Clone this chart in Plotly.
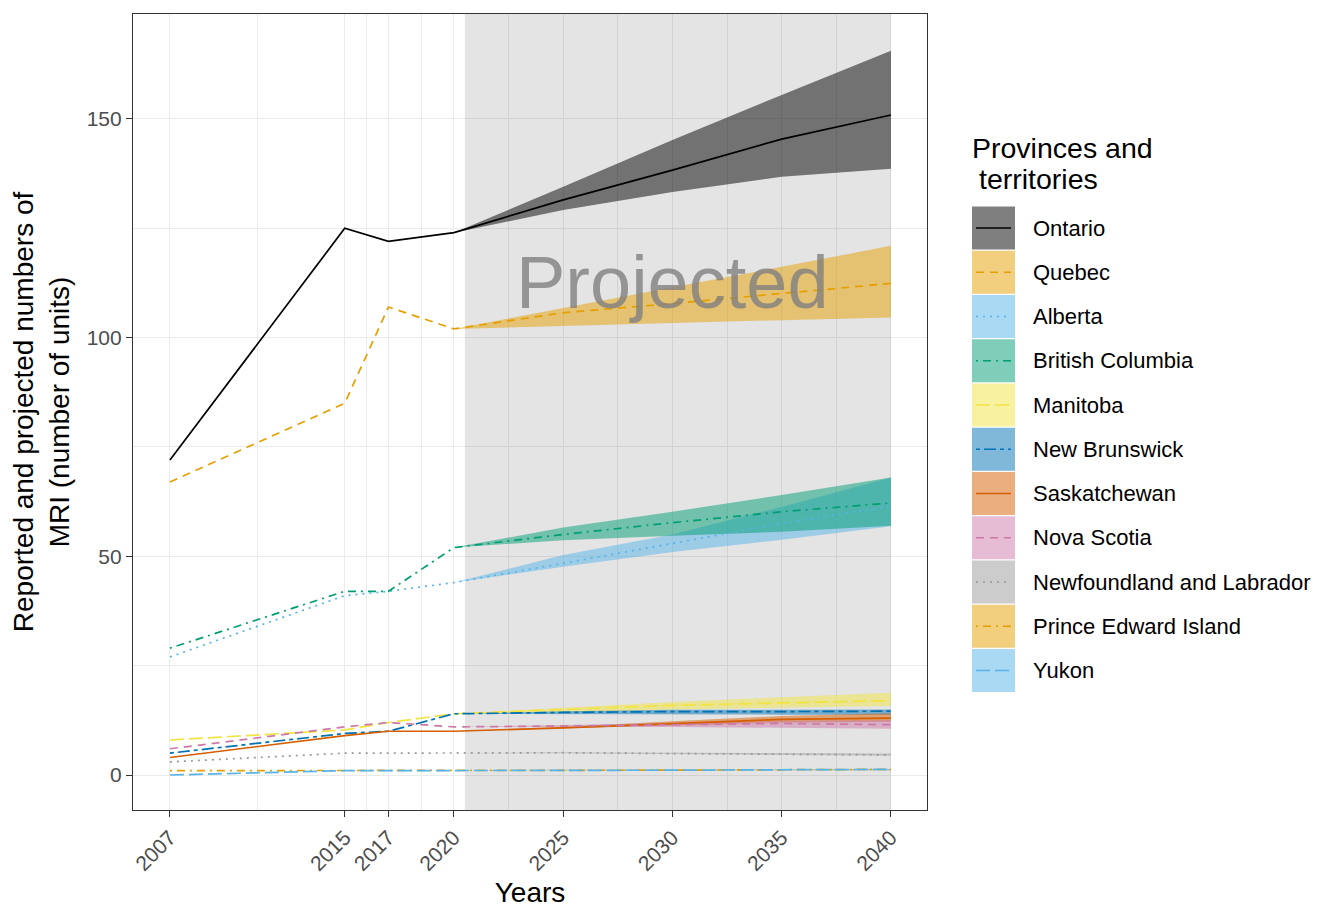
import plotly.graph_objects as go

# ---------------- data ----------------
years = [2007, 2015, 2017, 2020, 2025, 2030, 2035, 2040]
proj_years = [2020, 2025, 2030, 2035, 2040]
x_ticks = [2007, 2015, 2017, 2020, 2025, 2030, 2035, 2040]
y_ticks = [0, 50, 100, 150]

provinces = ["Ontario", "Quebec", "Alberta", "British Columbia", "Manitoba",
             "New Brunswick", "Saskatchewan", "Nova Scotia",
             "Newfoundland and Labrador", "Prince Edward Island", "Yukon"]

ontario = [72, 125, 122, 124, 131.5, 138.3, 145.4, 150.9]
ontario_lo = [124, 129.2, 133.3, 136.8, 138.6]
ontario_hi = [124, 134.5, 145.2, 155.5, 165.6]

quebec = [67, 85, 107, 102, 105.7, 107.8, 110.1, 112.4]
quebec_lo = [102, 102.7, 103.4, 104.0, 104.6]
quebec_hi = [102, 106.8, 111.5, 116.2, 121.0]

alberta = [27, 41, 42, 44, 48.4, 52.9, 57.5, 61.5]
alberta_lo = [44, 47.6, 51.0, 53.8, 56.9]
alberta_hi = [44, 50.3, 55.0, 61.3, 68.0]

bc = [29, 42, 42, 52, 55.0, 57.7, 60.2, 62.2]
bc_lo = [52, 53.7, 54.7, 55.6, 57.0]
bc_hi = [52, 56.6, 60.2, 64.0, 68.0]

manitoba = [8, 10.3, 12, 14, 15.0, 15.9, 16.5, 17.0]
manitoba_lo = [14, 14.3, 15.0, 15.4, 15.8]
manitoba_hi = [14, 15.4, 16.7, 17.8, 18.8]

new_brunswick = [5, 9.5, 10, 14, 14.3, 14.5, 14.5, 14.6]
new_brunswick_lo = [14, 13.9, 13.9, 13.8, 13.8]
new_brunswick_hi = [14, 14.6, 14.9, 15.0, 15.0]

saskatchewan = [4, 9, 10, 10, 10.8, 11.8, 12.7, 13.0]
saskatchewan_lo = [10, 10.6, 11.3, 12.0, 12.2]
saskatchewan_hi = [10, 11.0, 12.3, 13.5, 14.1]

nova_scotia = [6, 11, 12, 11, 11.2, 11.5, 11.8, 11.5]
nova_scotia_lo = [11, 11.0, 11.0, 10.8, 10.6]
nova_scotia_hi = [11, 11.4, 11.9, 12.4, 12.6]

newfoundland = [3, 5, 5, 5, 5.1, 4.9, 4.8, 4.6]
newfoundland_lo = [5, 5.0, 4.8, 4.6, 4.4]
newfoundland_hi = [5, 5.2, 5.1, 5.0, 4.9]

pei = [1, 1, 1, 1, 1.1, 1.1, 1.2, 1.3]
pei_lo = [1, 1.0, 1.0, 1.1, 1.1]
pei_hi = [1, 1.2, 1.2, 1.3, 1.4]

yukon = [0, 1, 1, 1, 1.1, 1.1, 1.2, 1.3]
yukon_lo = [1, 1.0, 1.0, 1.1, 1.1]
yukon_hi = [1, 1.2, 1.2, 1.3, 1.4]

series = [ontario, quebec, alberta, bc, manitoba, new_brunswick,
          saskatchewan, nova_scotia, newfoundland, pei, yukon]
lows = [ontario_lo, quebec_lo, alberta_lo, bc_lo, manitoba_lo, new_brunswick_lo,
        saskatchewan_lo, nova_scotia_lo, newfoundland_lo, pei_lo, yukon_lo]
highs = [ontario_hi, quebec_hi, alberta_hi, bc_hi, manitoba_hi, new_brunswick_hi,
         saskatchewan_hi, nova_scotia_hi, newfoundland_hi, pei_hi, yukon_hi]

projection_start = 2020.5
projection_end = 2040
x_range = [2005.31, 2041.65]
y_range = [-8.0, 174.0]

# ---------------- styles ----------------
colors = ["#000000", "#E69F00", "#56B4E9", "#009E73", "#F0E442", "#0072B2",
          "#D55E00", "#CC79A7", "#999999", "#E69F00", "#56B4E9"]
SOLID = "solid"
DASHED = "8px,6px"
DOTTED = "2px,5px"
DOTDASH = "2px,5px,8px,5px"
LONGDASH = "14px,5px"
TWODASH = "4px,4px,12px,4px"
dashes = [SOLID, DASHED, DOTTED, DOTDASH, LONGDASH, TWODASH,
          SOLID, DASHED, DOTTED, DOTDASH, LONGDASH]


def rgba(hexcol, a):
    h = hexcol.lstrip("#")
    r, g, b = int(h[0:2], 16), int(h[2:4], 16), int(h[4:6], 16)
    return f"rgba({r},{g},{b},{a})"


FONT = "Liberation Sans, Arial, Helvetica, sans-serif"
LW = 1.7

fig = go.Figure()

# projected region (drawn as a trace so it sits above the grid, below data)
fig.add_trace(go.Scatter(
    x=[projection_start, projection_end, projection_end, projection_start, projection_start],
    y=[y_range[0], y_range[0], y_range[1], y_range[1], y_range[0]],
    mode="lines", fill="toself", fillcolor="rgba(0,0,0,0.105)",
    line=dict(width=0), showlegend=False, hoverinfo="skip"))

# ribbons
for name, lo, hi, col in zip(provinces, lows, highs, colors):
    fig.add_trace(go.Scatter(x=proj_years, y=lo, mode="lines",
                             line=dict(width=0, color=col), showlegend=False,
                             hoverinfo="skip"))
    fig.add_trace(go.Scatter(x=proj_years, y=hi, mode="lines", fill="tonexty",
                             fillcolor=rgba(col, 0.5),
                             line=dict(width=0, color=col), showlegend=False,
                             name=name, hoverinfo="skip"))

# lines
for name, vals, col, dsh in zip(provinces, series, colors, dashes):
    fig.add_trace(go.Scatter(x=years, y=vals, mode="lines", name=name,
                             line=dict(color=col, width=LW, dash=dsh),
                             showlegend=False))

fig.add_annotation(x=2030, y=112.6, xref="x", yref="y", text="Projected",
                   showarrow=False, font=dict(family=FONT, size=74,
                                               color="rgba(127,127,127,0.8)"))

# ---------------- manual legend ----------------
# page body has an 8px margin, so figure coordinates = screen - 8
OFF = 8
FIG_W, FIG_H = 1344 - OFF, 923 - OFF
L, T, W, H = 133 - OFF, 14 - OFF, 794, 796


def px(xp):
    return (xp - OFF - L) / W


def py(yp):
    return (T + H - (yp - OFF)) / H


fig.add_annotation(xref="paper", yref="paper", x=px(970), y=py(148),
                   xanchor="left", yanchor="middle", text="Provinces and",
                   showarrow=False, font=dict(family=FONT, size=28.5, color="black"))
fig.add_annotation(xref="paper", yref="paper", x=px(977), y=py(179),
                   xanchor="left", yanchor="middle", text="territories",
                   showarrow=False, font=dict(family=FONT, size=28.5, color="black"))

for i, (name, col, dsh) in enumerate(zip(provinces, colors, dashes)):
    cy = 228 + 44.25 * i
    fig.add_shape(type="rect", xref="paper", yref="paper",
                  x0=px(972), x1=px(1015), y0=py(cy - 21.5), y1=py(cy + 21.5),
                  fillcolor=rgba(col, 0.5), line_width=0)
    fig.add_shape(type="line", xref="paper", yref="paper",
                  x0=px(976), x1=px(1011), y0=py(cy), y1=py(cy),
                  line=dict(color=col, width=LW, dash=dsh))
    fig.add_annotation(xref="paper", yref="paper", x=px(1031), y=py(cy),
                       xanchor="left", yanchor="middle", text=name,
                       showarrow=False,
                       font=dict(family=FONT, size=22, color="black"))

GRID = "#EBEBEB"
fig.update_layout(
    width=FIG_W, height=FIG_H,
    margin=dict(l=L, r=FIG_W - L - W, t=T, b=FIG_H - T - H, autoexpand=False),
    paper_bgcolor="white", plot_bgcolor="white",
    showlegend=False,
    font=dict(family=FONT),
    xaxis=dict(
        range=x_range, tickmode="array", tickvals=x_ticks,
        ticktext=[str(v) for v in x_ticks], tickangle=-45,
        ticks="outside", ticklen=6, tickwidth=1.2, tickcolor="#333333",
        tickfont=dict(family=FONT, size=21, color="#4D4D4D"),
        showgrid=True, gridcolor=GRID, gridwidth=1.4, zeroline=False,
        showline=True, mirror=True, linecolor="#333333", linewidth=1.2,
        minor=dict(tickvals=[2011, 2016, 2018.5, 2022.5, 2027.5, 2032.5, 2037.5],
                   showgrid=True, gridcolor=GRID, gridwidth=0.8, ticks=""),
        title=dict(text="Years", font=dict(family=FONT, size=28, color="black"),
                   standoff=8),
    ),
    yaxis=dict(
        range=y_range, tickmode="array", tickvals=y_ticks,
        ticks="outside", ticklen=6, tickwidth=1.2, tickcolor="#333333",
        tickfont=dict(family=FONT, size=21, color="#4D4D4D"),
        showgrid=True, gridcolor=GRID, gridwidth=1.4, zeroline=False,
        showline=True, mirror=True, linecolor="#333333", linewidth=1.2,
        minor=dict(tickvals=[25, 75, 125], showgrid=True, gridcolor=GRID,
                   gridwidth=0.8, ticks=""),
        title=dict(text="Reported and projected numbers of<br>MRI (number of units)",
                   font=dict(family=FONT, size=28, color="black"), standoff=8),
    ),
)

fig.write_html("out.html")
